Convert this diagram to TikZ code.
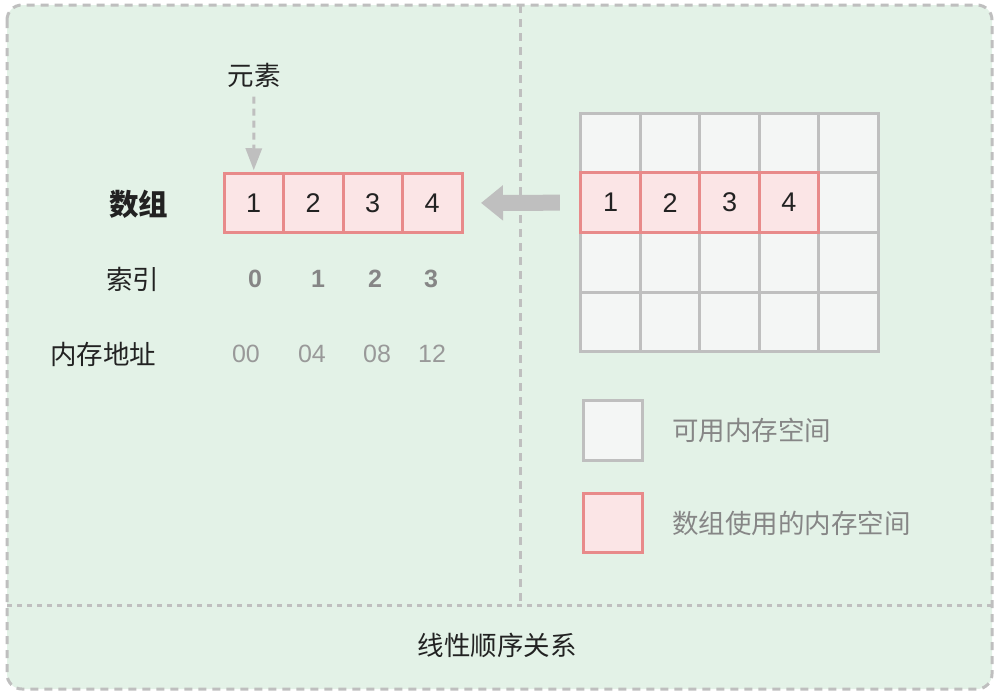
\documentclass[tikz,border=0pt]{standalone}
\usepackage{fontspec}
\setmainfont{Noto Sans CJK SC}
\newfontfamily\digitfont{Liberation Sans}
\usetikzlibrary{arrows.meta,positioning}
\definecolor{panelgreen}{HTML}{E3F2E7}
\definecolor{edgegray}{HTML}{BFBFBF}
\definecolor{cellred}{HTML}{E88A8A}
\definecolor{cellpink}{HTML}{FBE5E6}
\definecolor{cellgray}{HTML}{F4F6F5}
\definecolor{inkdark}{HTML}{222222}
\definecolor{inkgray}{HTML}{868686}
\definecolor{inklight}{HTML}{999999}

\begin{document}
\begin{tikzpicture}[
    x=1pt, y=-1pt,
    node distance=0pt,
    every node/.style={font=\fontsize{26.5}{30}\selectfont, text=inkdark},
    freecell/.style={draw=edgegray, fill=cellgray, line width=3pt, minimum size=59.5pt, inner sep=0pt, outer sep=0pt},
    usedcell/.style={draw=cellred, fill=cellpink, line width=3pt, minimum size=59.5pt, inner sep=0pt, outer sep=0pt, font=\digitfont\fontsize{27}{30}\selectfont},
    rowlabel/.style={anchor=east},
    idxnum/.style={font=\digitfont\fontsize{25}{30}\selectfont\bfseries, text=inkgray},
    addrnum/.style={font=\digitfont\fontsize{25}{30}\selectfont, text=inklight},
    legendtext/.style={anchor=west, text=inkgray},
    divider/.style={draw=edgegray, line width=3pt, dash pattern=on 8pt off 6pt},
    hint/.style={-{Triangle[width=16pt, length=22pt]}, draw=edgegray, line width=3pt, dash pattern=on 7pt off 5pt},
    bigarrow/.style={-{Triangle[width=34pt, length=22pt]}, draw=edgegray, line width=16pt}
]
\useasboundingbox (0,0) rectangle (1001,694);

% frame and dividers
\draw[divider, fill=panelgreen, rounded corners=15pt] (7,5) rectangle (992,689);
\draw[divider, dash pattern=on 5pt off 5pt] (7,605) -- (992,605);
\draw[divider] (520,5) -- (520,605);

% memory grid
\foreach \r in {1,...,4}
  \foreach \c in {1,...,5}
    \node[freecell] (g\r\c) at ({581+59.4*(\c-0.5)}, {113+59.75*(\r-0.5)}) {};
\node[usedcell] (m1) at (g21) {1};
\node[usedcell] (m2) at (g22) {2};
\node[usedcell] (m3) at (g23) {3};
\node[usedcell] (m4) at (g24) {4};

% the array
\node[usedcell] (a1) at (253.75,203) {1};
\node[usedcell, right=of a1] (a2) {2};
\node[usedcell, right=of a2] (a3) {3};
\node[usedcell, right=of a3] (a4) {4};

\node[rowlabel, font=\fontsize{29.5}{32}\selectfont\bfseries] (arr) at (172,204) {数组};
\node[rowlabel] (idx) at (163,279) {索引};
\node[rowlabel] (addr) at (160,354) {内存地址};

\node[idxnum] (i0) at (255,279) {0};
\node[idxnum] (i1) at (318,279) {1};
\node[idxnum] (i2) at (375,279) {2};
\node[idxnum] (i3) at (431,279) {3};

\node[addrnum] (d0) at (246,354) {00};
\node[addrnum] (d1) at (312,354) {04};
\node[addrnum] (d2) at (377,354) {08};
\node[addrnum] (d3) at (432,354) {12};

\node (elem) at (254,75) {元素};
\draw[hint, shorten <=6pt, shorten >=3pt] (elem.south) -- (a1.north);
\draw[bigarrow, shorten <=21pt, shorten >=19pt] (m1.west) -- (a4.east);

% legend
\node[freecell] (kfree) at (613,430.5) {};
\node[legendtext, right=26pt of kfree] (tfree) {可用内存空间};
\node[usedcell] (kused) at (613,523) {};
\node[legendtext, right=26pt of kused] (tused) {数组使用的内存空间};

\node (title) at (497,645) {线性顺序关系};
\end{tikzpicture}
\end{document}
